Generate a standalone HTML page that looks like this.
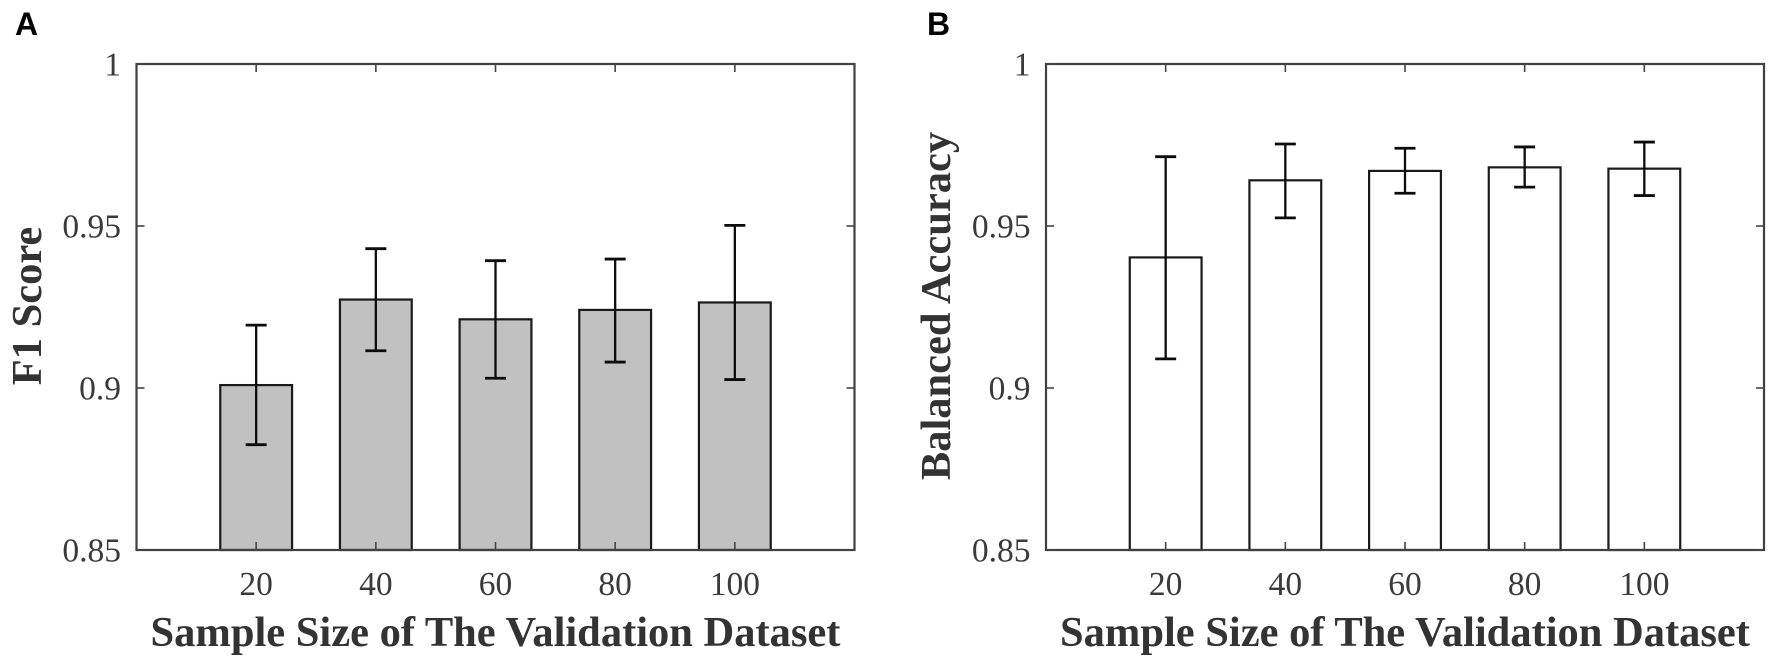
<!DOCTYPE html>
<html lang="en">
<head>
<meta charset="utf-8">
<title>F1 Score and Balanced Accuracy by Sample Size</title>
<style>
  html, body { margin: 0; padding: 0; background: #fff; }
  svg { display: block; }
  text { font-family: "Liberation Serif", serif; fill: #3a3a3a; }
  .tick-label { font-size: 33.5px; }
  .axis-title { font-size: 42.5px; font-weight: bold; fill: #333; }
  .panel-letter { font-family: "Liberation Sans", sans-serif; font-size: 32px; font-weight: bold; fill: #000; }
</style>
</head>
<body>
<svg id="figure" xmlns="http://www.w3.org/2000/svg" width="1772" height="662" viewBox="0 0 1772 662"></svg>
<script>
const categories = [20, 40, 60, 80, 100];
const xTickLabels = ['20', '40', '60', '80', '100'];
const yTickValues = [0.85, 0.9, 0.95, 1];
const yTickLabels = ['0.85', '0.9', '0.95', '1'];

const f1Values = [0.9009, 0.9273, 0.9212, 0.9241, 0.9264];
const f1Upper = [0.9194, 0.9430, 0.9393, 0.9398, 0.9502];
const f1Lower = [0.8825, 0.9115, 0.9030, 0.9080, 0.9026];

const balancedValues = [0.9403, 0.9641, 0.9670, 0.9681, 0.9677];
const balancedUpper = [0.9714, 0.9753, 0.9740, 0.9744, 0.9759];
const balancedLower = [0.9090, 0.9525, 0.9601, 0.9620, 0.9594];

const svgNS = 'http://www.w3.org/2000/svg';
const figure = document.getElementById('figure');

const Y_MIN = 0.85, Y_MAX = 1, TOP = 64, BOTTOM = 550;
const X_MIN = 0, X_MAX = 120, PLOT_WIDTH = 718;
const BAR_WIDTH_UNITS = 12, CAP_PX = 21, TICK_PX = 8;

function make(tag, parent) {
  const el = document.createElementNS(svgNS, tag);
  parent.appendChild(el);
  return el;
}
function yScale(v) {
  return BOTTOM - (v - Y_MIN) / (Y_MAX - Y_MIN) * (BOTTOM - TOP);
}
function xScale(left, v) {
  return left + (v - X_MIN) / (X_MAX - X_MIN) * PLOT_WIDTH;
}
function line(parent, x1, y1, x2, y2, stroke, width) {
  const l = make('line', parent);
  l.setAttribute('x1', x1);
  l.setAttribute('y1', y1);
  l.setAttribute('x2', x2);
  l.setAttribute('y2', y2);
  l.setAttribute('stroke', stroke);
  l.setAttribute('stroke-width', width);
  return l;
}
function label(parent, x, y, str, cls, anchor) {
  const t = make('text', parent);
  t.setAttribute('x', x);
  t.setAttribute('y', y);
  t.setAttribute('class', cls);
  t.setAttribute('text-anchor', anchor);
  t.textContent = str;
  return t;
}

function drawPanel(p) {
  const g = make('g', figure);
  
  
  const right = p.left + PLOT_WIDTH;

  // bars and error bars
  categories.forEach(function (c, i) {
    const cx = xScale(p.left, c);
    const barWidth = xScale(p.left, BAR_WIDTH_UNITS) - p.left;
    const top = yScale(p.values[i]);

    const bar = make('rect', g);
    
    
    bar.setAttribute('x', cx - barWidth / 2);
    bar.setAttribute('y', top);
    bar.setAttribute('width', barWidth);
    bar.setAttribute('height', BOTTOM - top);
    bar.setAttribute('fill', p.fill);
    bar.setAttribute('stroke', '#1a1a1a');
    bar.setAttribute('stroke-width', 2.2);

    const errStem = line(g, cx, yScale(p.upper[i]), cx, yScale(p.lower[i]), '#0c0c0c', 2.3);
    
    

    const capUp = line(g, cx - CAP_PX / 2, yScale(p.upper[i]), cx + CAP_PX / 2, yScale(p.upper[i]), '#0c0c0c', 2.8);
    
    

    const capLow = line(g, cx - CAP_PX / 2, yScale(p.lower[i]), cx + CAP_PX / 2, yScale(p.lower[i]), '#0c0c0c', 2.8);
    
    
  });

  // axes frame
  const frame = make('rect', g);
  
  
  frame.setAttribute('x', p.left);
  frame.setAttribute('y', TOP);
  frame.setAttribute('width', PLOT_WIDTH);
  frame.setAttribute('height', BOTTOM - TOP);
  frame.setAttribute('fill', 'none');
  frame.setAttribute('stroke', '#404040');
  frame.setAttribute('stroke-width', 2.2);

  // x ticks and labels
  categories.forEach(function (c, i) {
    const x = xScale(p.left, c);
    const tb = line(g, x, BOTTOM, x, BOTTOM - TICK_PX, '#444', 1.6);
    
    
    const tt = line(g, x, TOP, x, TOP + TICK_PX, '#444', 1.6);
    
    
    const tl = label(g, x, 595, xTickLabels[i], 'tick-label', 'middle');
    
    
  });

  // y ticks and labels
  yTickValues.forEach(function (v, i) {
    const y = yScale(v);
    const tl = line(g, p.left, y, p.left + TICK_PX, y, '#444', 1.6);
    
    
    const tr = line(g, right, y, right - TICK_PX, y, '#444', 1.6);
    
    
    const tx = label(g, p.left - 15.5, y + 11.5, yTickLabels[i], 'tick-label', 'end');
    
    
  });

  // titles
  const xt = label(g, p.left + PLOT_WIDTH / 2, 646, 'Sample Size of The Validation Dataset', 'axis-title', 'middle');
  
  

  const yt = label(g, 0, 0, p.yTitle, 'axis-title', 'middle');
  yt.setAttribute('transform', 'translate(' + p.yTitleX + ',' + p.yTitleY + ') rotate(-90)');
  
  

  const letter = label(g, p.letterX, 35, p.letter, 'panel-letter', 'start');
  
  
}

drawPanel({
  id: 'f1-score', letter: 'A', letterX: 15, left: 136.5, fill: '#c1c1c1',
  values: f1Values, upper: f1Upper, lower: f1Lower,
  yTitle: 'F1 Score', yTitleX: 41, yTitleY: 306
});
drawPanel({
  id: 'balanced-accuracy', letter: 'B', letterX: 927, left: 1046, fill: '#ffffff',
  values: balancedValues, upper: balancedUpper, lower: balancedLower,
  yTitle: 'Balanced Accuracy', yTitleX: 950, yTitleY: 306
});
</script>
</body>
</html>
